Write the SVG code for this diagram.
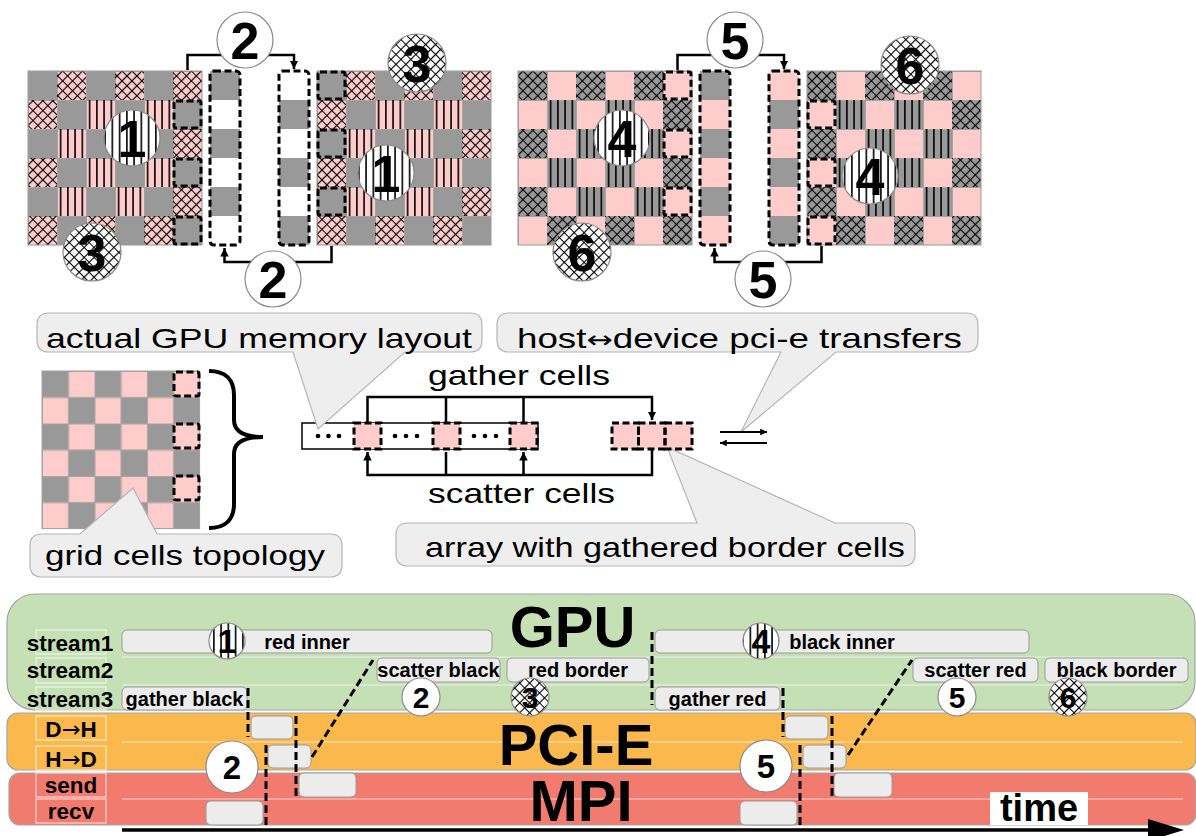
<svg xmlns="http://www.w3.org/2000/svg" width="1196" height="836" viewBox="0 0 1196 836">
<style>
text{font-family:"Liberation Sans",Arial,sans-serif;fill:#000}
.big{font-size:52px;font-weight:bold;text-anchor:middle}
.bub{fill:#eeeeee;stroke:#b5b5b5;stroke-width:1.2}
.bt{font-size:28px}
.dash{fill:none;stroke:#000;stroke-width:3;stroke-dasharray:7 3.5}
.conn{fill:none;stroke:#000;stroke-width:2.5}
.circ{stroke:#8a8a8a;stroke-width:1.2}
.bar{fill:#ececec;stroke:#9a9a9a;stroke-width:1}
.bl{font-size:20px;font-weight:bold;text-anchor:middle}
.lab{font-size:22.5px;font-weight:bold;text-anchor:middle}
.arr{font-family:"DejaVu Sans",sans-serif;font-weight:normal}
.lbox{fill:none;stroke:#fff;stroke-opacity:0.55;stroke-width:1.5}
.lane{stroke:#fff;stroke-opacity:0.45;stroke-width:1.5}
.td{fill:none;stroke:#000;stroke-width:3;stroke-dasharray:8 4}
.ttl{font-size:58px;font-weight:bold;text-anchor:middle}
.num{font-weight:bold;text-anchor:middle}
</style>
<defs>
<pattern id="chk" width="58" height="58" patternUnits="userSpaceOnUse">
<rect width="58" height="58" fill="#999"/>
<rect x="29" width="29" height="29" fill="#ffcccc"/>
<rect y="29" width="29" height="29" fill="#ffcccc"/>
<path d="M0.5,0V58M29.5,0V58M0,0.5H58M0,29.5H58" stroke="#a3a3a3" stroke-width="1"/>
</pattern>
<pattern id="xh" width="7" height="7" patternUnits="userSpaceOnUse" patternTransform="rotate(45)">
<path d="M0,3.5H7M3.5,0V7" stroke="#000" stroke-width="1.2"/>
</pattern>
<pattern id="vl" width="7.25" height="10" patternUnits="userSpaceOnUse">
<path d="M3.6,0V10" stroke="#000" stroke-width="1.6"/>
</pattern>
<marker id="ah" viewBox="0 0 10 10" refX="10" refY="5" markerWidth="3.4" markerHeight="3.4" orient="auto-start-reverse" markerUnits="strokeWidth">
<path d="M0,0L10,5L0,10z" fill="#000"/>
</marker>
<g id="gridR">
<rect width="174" height="174" fill="url(#chk)"/>
<g fill="url(#xh)">
<rect x="29" y="0" width="29" height="29"/><rect x="87" y="0" width="29" height="29"/><rect x="145" y="0" width="29" height="29"/>
<rect x="0" y="145" width="29" height="29"/><rect x="58" y="145" width="29" height="29"/><rect x="116" y="145" width="29" height="29"/>
<rect x="0" y="29" width="29" height="29"/><rect x="0" y="87" width="29" height="29"/>
<rect x="145" y="58" width="29" height="29"/><rect x="145" y="116" width="29" height="29"/>
</g>
<g fill="url(#vl)">
<rect x="58" y="29" width="29" height="29"/><rect x="116" y="29" width="29" height="29"/>
<rect x="29" y="58" width="29" height="29"/><rect x="87" y="58" width="29" height="29"/>
<rect x="58" y="87" width="29" height="29"/><rect x="116" y="87" width="29" height="29"/>
<rect x="29" y="116" width="29" height="29"/><rect x="87" y="116" width="29" height="29"/>
</g>
<rect width="174" height="174" fill="none" stroke="#999" stroke-width="1"/>
</g>
<g id="gridB">
<rect width="174" height="174" fill="url(#chk)"/>
<g fill="url(#xh)">
<rect x="0" y="0" width="29" height="29"/><rect x="58" y="0" width="29" height="29"/><rect x="116" y="0" width="29" height="29"/>
<rect x="29" y="145" width="29" height="29"/><rect x="87" y="145" width="29" height="29"/><rect x="145" y="145" width="29" height="29"/>
<rect x="0" y="58" width="29" height="29"/><rect x="0" y="116" width="29" height="29"/>
<rect x="145" y="29" width="29" height="29"/><rect x="145" y="87" width="29" height="29"/>
</g>
<g fill="url(#vl)">
<rect x="29" y="29" width="29" height="29"/><rect x="87" y="29" width="29" height="29"/>
<rect x="58" y="58" width="29" height="29"/><rect x="116" y="58" width="29" height="29"/>
<rect x="29" y="87" width="29" height="29"/><rect x="87" y="87" width="29" height="29"/>
<rect x="58" y="116" width="29" height="29"/><rect x="116" y="116" width="29" height="29"/>
</g>
<rect width="174" height="174" fill="none" stroke="#999" stroke-width="1"/>
</g>
</defs>

<rect width="1196" height="836" fill="#fff"/>

<!-- top-left: red step -->
<g id="grid1"><use href="#gridR" x="28" y="71"/>
<rect class="dash" x="174" y="101" width="27" height="27" rx="2"/>
<rect class="dash" x="174" y="159" width="27" height="27" rx="2"/>
<rect class="dash" x="174" y="217" width="27" height="27" rx="2"/>
</g>
<g id="grid2"><use href="#gridR" x="317" y="71"/>
<rect class="dash" x="318" y="72" width="27" height="27" rx="2"/>
<rect class="dash" x="318" y="130" width="27" height="27" rx="2"/>
<rect class="dash" x="318" y="188" width="27" height="27" rx="2"/>
</g>
<g id="stripA1">
<rect x="210" y="71" width="30" height="174" fill="#fff"/>
<rect x="210" y="71" width="30" height="29" fill="#999"/><rect x="210" y="129" width="30" height="29" fill="#999"/><rect x="210" y="187" width="30" height="29" fill="#999"/>
<rect class="dash" x="210" y="71" width="30" height="174" rx="4"/>
</g>
<g id="stripB1">
<rect x="279" y="71" width="30" height="174" fill="#fff"/>
<rect x="279" y="100" width="30" height="29" fill="#999"/><rect x="279" y="158" width="30" height="29" fill="#999"/><rect x="279" y="216" width="30" height="29" fill="#999"/>
<rect class="dash" x="279" y="71" width="30" height="174" rx="4"/>
</g>

<!-- top-right: black step -->
<g id="grid3"><use href="#gridB" x="518" y="71"/>
<rect class="dash" x="664" y="72" width="27" height="27" rx="2"/>
<rect class="dash" x="664" y="130" width="27" height="27" rx="2"/>
<rect class="dash" x="664" y="188" width="27" height="27" rx="2"/>
</g>
<g id="grid4"><use href="#gridB" x="807" y="71"/>
<rect class="dash" x="808" y="101" width="27" height="27" rx="2"/>
<rect class="dash" x="808" y="159" width="27" height="27" rx="2"/>
<rect class="dash" x="808" y="217" width="27" height="27" rx="2"/>
</g>
<g id="stripA2">
<rect x="700" y="71" width="30" height="174" fill="#ffcccc"/>
<rect x="700" y="71" width="30" height="29" fill="#999"/><rect x="700" y="129" width="30" height="29" fill="#999"/><rect x="700" y="187" width="30" height="29" fill="#999"/>
<rect class="dash" x="700" y="71" width="30" height="174" rx="4"/>
</g>
<g id="stripB2">
<rect x="769" y="71" width="30" height="174" fill="#ffcccc"/>
<rect x="769" y="100" width="30" height="29" fill="#999"/><rect x="769" y="158" width="30" height="29" fill="#999"/><rect x="769" y="216" width="30" height="29" fill="#999"/>
<rect class="dash" x="769" y="71" width="30" height="174" rx="4"/>
</g>

<g id="connectors-top">
<path class="conn" d="M187.5,70V55H294V69" marker-end="url(#ah)"/>
<path class="conn" d="M331.5,246V262H224.5V248" marker-end="url(#ah)"/>
<path class="conn" d="M677.5,70V55H784V69" marker-end="url(#ah)"/>
<path class="conn" d="M821.5,246V262H714.5V248" marker-end="url(#ah)"/>
</g>

<g id="top-circles">
<circle cx="132" cy="138" r="28" fill="#fff"/><circle class="circ" cx="132" cy="138" r="28" fill="url(#vl)"/><text class="big" x="132" y="157">1</text>
<circle cx="92" cy="252" r="29" fill="#fff"/><circle class="circ" cx="92" cy="252" r="29" fill="url(#xh)"/><text class="big" x="92" y="271">3</text>
<circle class="circ" cx="245" cy="40" r="28" fill="#fff"/><text class="big" x="245" y="59">2</text>
<circle class="circ" cx="273" cy="279" r="28" fill="#fff"/><text class="big" x="273" y="298">2</text>
<circle cx="417" cy="63" r="29" fill="#fff"/><circle class="circ" cx="417" cy="63" r="29" fill="url(#xh)"/><text class="big" x="417" y="82">3</text>
<circle cx="386" cy="173" r="28" fill="#fff"/><circle class="circ" cx="386" cy="173" r="28" fill="url(#vl)"/><text class="big" x="386" y="192">1</text>
<circle cx="622" cy="138" r="28" fill="#fff"/><circle class="circ" cx="622" cy="138" r="28" fill="url(#vl)"/><text class="big" x="622" y="157">4</text>
<circle cx="582" cy="252" r="29" fill="#fff"/><circle class="circ" cx="582" cy="252" r="29" fill="url(#xh)"/><text class="big" x="582" y="271">6</text>
<circle class="circ" cx="735" cy="40" r="28" fill="#fff"/><text class="big" x="735" y="59">5</text>
<circle class="circ" cx="763" cy="279" r="28" fill="#fff"/><text class="big" x="763" y="298">5</text>
<circle cx="910" cy="65" r="29" fill="#fff"/><circle class="circ" cx="910" cy="65" r="29" fill="url(#xh)"/><text class="big" x="910" y="84">6</text>
<circle cx="870" cy="176" r="28" fill="#fff"/><circle class="circ" cx="870" cy="176" r="28" fill="url(#vl)"/><text class="big" x="870" y="195">4</text>
</g>

<!-- middle -->
<g id="topology">
<g transform="translate(42,371) scale(0.906)">
<rect width="174" height="174" fill="url(#chk)" stroke="#999" stroke-width="1"/>
</g>
<rect class="dash" x="174" y="372" width="25" height="24" rx="2"/>
<rect class="dash" x="174" y="424" width="25" height="24" rx="2"/>
<rect class="dash" x="174" y="476" width="25" height="24" rx="2"/>
<path d="M209,371C226,371 234,380 234,395L234,420C234,432 244,437 263,437C244,437 234,442 234,454L234,504C234,519 226,528 209,528" fill="none" stroke="#000" stroke-width="4"/>
</g>

<g id="array">
<rect x="302" y="423" width="236" height="26" fill="#fff" stroke="#000" stroke-width="1.5"/>
<g fill="#000">
<circle cx="318" cy="436" r="2.3"/><circle cx="328.5" cy="436" r="2.3"/><circle cx="339" cy="436" r="2.3"/>
<circle cx="395" cy="436" r="2.3"/><circle cx="406" cy="436" r="2.3"/><circle cx="417" cy="436" r="2.3"/>
<circle cx="474" cy="436" r="2.3"/><circle cx="485" cy="436" r="2.3"/><circle cx="496" cy="436" r="2.3"/>
</g>
</g>

<g id="bubble-memory">
<path class="bub" d="M49,313H470Q482,313 482,325V340Q482,352 470,352H405L318,429L293,352H49Q37,352 37,340V325Q37,313 49,313Z"/>
<text class="bt" x="46" y="348" textLength="426" lengthAdjust="spacingAndGlyphs">actual GPU memory layout</text>
</g>
<g id="bubble-pcie">
<path class="bub" d="M509,313H966Q978,313 978,325V340Q978,352 966,352H836L741,432L781,352H509Q497,352 497,340V325Q497,313 509,313Z"/>
<text class="bt" x="517" y="348" textLength="445" lengthAdjust="spacingAndGlyphs">host<tspan class="arr" font-size="24">↔</tspan>device pci-e transfers</text>
</g>
<g id="bubble-array">
<path class="bub" d="M408,523H697L667,447L835,523H903Q915,523 915,535V554Q915,566 903,566H408Q396,566 396,554V535Q396,523 408,523Z"/>
<text class="bt" x="425" y="557" textLength="480" lengthAdjust="spacingAndGlyphs">array with gathered border cells</text>
</g>
<g id="bubble-topology">
<path class="bub" d="M42,534H80L133,488L157,534H330Q342,534 342,546V565Q342,577 330,577H42Q30,577 30,565V546Q30,534 42,534Z"/>
<text class="bt" x="45" y="565" textLength="280" lengthAdjust="spacingAndGlyphs">grid cells topology</text>
</g>

<g id="array-cells">
<rect x="354" y="423" width="27" height="26" fill="#ffcccc"/><rect class="dash" x="354" y="423" width="27" height="26"/>
<rect x="433" y="423" width="27" height="26" fill="#ffcccc"/><rect class="dash" x="433" y="423" width="27" height="26"/>
<rect x="510" y="423" width="27" height="26" fill="#ffcccc"/><rect class="dash" x="510" y="423" width="27" height="26"/>
<rect x="612" y="423" width="80" height="26" fill="#ffcccc"/>
<rect class="dash" x="612" y="423" width="26.5" height="26"/>
<rect class="dash" x="638.5" y="423" width="26.5" height="26"/>
<rect class="dash" x="665" y="423" width="27" height="26"/>
</g>

<g id="gather-scatter">
<path class="conn" d="M367.5,423V397H652V420" marker-end="url(#ah)"/>
<path class="conn" d="M446,397V423M523.5,397V423"/>
<path class="conn" d="M652,449V475H367.5V452" marker-end="url(#ah)"/>
<path class="conn" d="M446,475V452M523.5,475V452" marker-end="url(#ah)"/>
<path class="conn" d="M720,432H767" marker-end="url(#ah)" style="stroke-width:2"/>
<path class="conn" d="M767,443H720" marker-end="url(#ah)" style="stroke-width:2"/>
<text class="bt" x="428" y="385" textLength="182" lengthAdjust="spacingAndGlyphs">gather cells</text>
<text class="bt" x="428" y="503" textLength="187" lengthAdjust="spacingAndGlyphs">scatter cells</text>
</g>

<!-- timeline -->
<g id="panel-gpu">
<rect x="7" y="594" width="1188" height="116" rx="28" fill="#c5e0b4" stroke="#a5a5a5" stroke-width="1.2"/>
<path class="lane" d="M122,657H1183M122,685H1183"/>
<text class="ttl" x="572.5" y="647">GPU</text>
</g>
<g id="panel-pcie">
<rect x="7" y="713" width="1189" height="57" rx="11" fill="#fbb84c" stroke="#a5a5a5" stroke-width="1.2"/>
<path class="lane" d="M122,742H1183"/>
<text class="ttl" x="576" y="765">PCI-E</text>
</g>
<g id="panel-mpi">
<rect x="9" y="773" width="1187" height="52" rx="11" fill="#f27b70" stroke="#a5a5a5" stroke-width="1.2"/>
<path class="lane" d="M122,799H1183"/>
<text class="ttl" x="581" y="821">MPI</text>
</g>

<g id="lane-labels">
<rect class="lbox" x="36" y="630" width="70" height="24"/><text class="lab" x="70" y="651">stream1</text>
<rect class="lbox" x="36" y="658" width="70" height="25"/><text class="lab" x="70" y="678">stream2</text>
<rect class="lbox" x="36" y="687" width="70" height="23"/><text class="lab" x="70" y="707">stream3</text>
<rect class="lbox" x="36" y="716" width="70" height="24"/><text class="lab" x="71" y="737">D<tspan class="arr">→</tspan>H</text>
<rect class="lbox" x="36" y="746" width="70" height="24"/><text class="lab" x="71" y="767">H<tspan class="arr">→</tspan>D</text>
<rect class="lbox" x="36" y="773" width="70" height="24"/><text class="lab" x="71" y="793">send</text>
<rect class="lbox" x="36" y="799" width="70" height="24"/><text class="lab" x="71" y="819">recv</text>
</g>

<g id="bars">
<rect class="bar" x="122" y="630" width="370" height="23" rx="5"/><text class="bl" x="307" y="649">red inner</text>
<rect class="bar" x="655" y="630" width="374" height="23" rx="5"/><text class="bl" x="842" y="649">black inner</text>
<rect class="bar" x="377" y="658" width="123" height="24" rx="5"/><text class="bl" x="438.5" y="677">scatter black</text>
<rect class="bar" x="507" y="658" width="142" height="24" rx="5"/><text class="bl" x="578" y="677">red border</text>
<rect class="bar" x="913" y="658" width="125" height="24" rx="5"/><text class="bl" x="975.5" y="677">scatter red</text>
<rect class="bar" x="1045" y="658" width="143" height="24" rx="5"/><text class="bl" x="1116.5" y="677">black border</text>
<rect class="bar" x="122" y="687" width="125" height="23" rx="5"/><text class="bl" x="184.5" y="706">gather black</text>
<rect class="bar" x="655" y="687" width="125" height="23" rx="5"/><text class="bl" x="717.5" y="706">gather red</text>
<rect class="bar" x="251" y="716" width="42" height="23" rx="5"/>
<rect class="bar" x="785" y="716" width="43" height="23" rx="5"/>
<rect class="bar" x="268" y="745" width="43" height="23" rx="5"/>
<rect class="bar" x="803" y="745" width="43" height="23" rx="5"/>
<rect class="bar" x="299" y="773" width="57" height="24" rx="5"/>
<rect class="bar" x="834" y="773" width="58" height="24" rx="5"/>
<rect class="bar" x="206" y="801" width="57" height="24" rx="5"/>
<rect class="bar" x="740" y="801" width="57" height="24" rx="5"/>
</g>

<g id="sync-lines">
<path class="td" d="M248,688V737M296,716V797M266,745V827M312,757L373,660"/>
<path class="td" d="M783,688V737M832,716V797M800,745V827M848,755L912,660"/>
<path class="td" d="M652,632V705"/>
</g>

<g id="timeline-circles">
<circle cx="227" cy="641" r="18" fill="#fff"/><circle class="circ" cx="227" cy="641" r="18" fill="url(#vl)"/><text class="num" x="227" y="653" font-size="34">1</text>
<circle cx="761" cy="641" r="18" fill="#fff"/><circle class="circ" cx="761" cy="641" r="18" fill="url(#vl)"/><text class="num" x="761" y="653" font-size="34">4</text>
<circle class="circ" cx="421" cy="697" r="19" fill="#fff"/><text class="num" x="421" y="708" font-size="30">2</text>
<circle cx="530" cy="697" r="19" fill="#fff"/><circle class="circ" cx="530" cy="697" r="19" fill="url(#xh)"/><text class="num" x="530" y="708" font-size="30">3</text>
<circle class="circ" cx="957" cy="697" r="19" fill="#fff"/><text class="num" x="957" y="708" font-size="30">5</text>
<circle cx="1068" cy="697" r="19" fill="#fff"/><circle class="circ" cx="1068" cy="697" r="19" fill="url(#xh)"/><text class="num" x="1068" y="708" font-size="30">6</text>
<circle class="circ" cx="232" cy="767" r="26" fill="#fff"/><text class="num" x="232" y="779" font-size="33">2</text>
<circle class="circ" cx="766" cy="766" r="26" fill="#fff"/><text class="num" x="766" y="778" font-size="33">5</text>
</g>

<g id="time-axis">
<rect x="990" y="792" width="98" height="33" fill="#fff"/>
<text class="num" x="1039" y="821" font-size="38">time</text>
<path d="M122,830H1152" stroke="#000" stroke-width="3.5"/>
<path d="M1148,819L1184,830L1148,841Z" fill="#000"/>
</g>
</svg>
